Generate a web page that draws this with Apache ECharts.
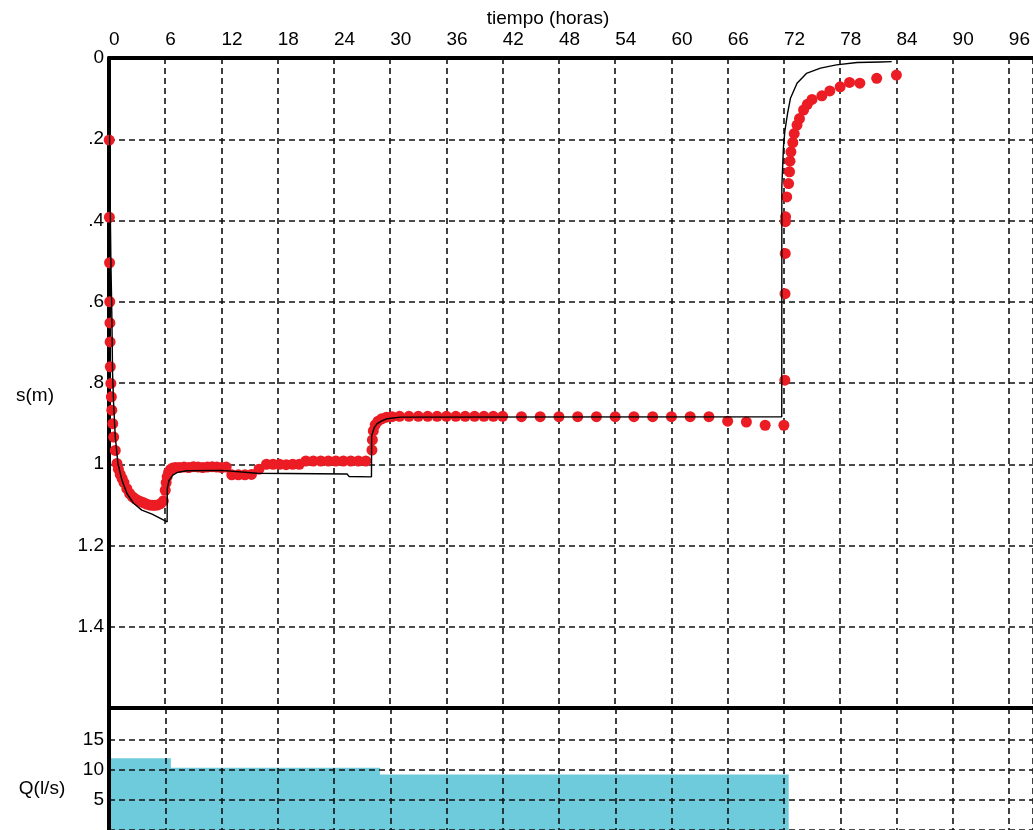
<!DOCTYPE html>
<html><head><meta charset="utf-8">
<script src="https://cdn.jsdelivr.net/npm/echarts@6/dist/echarts.min.js"></script>
<style>html,body{margin:0;padding:0;background:#fff}#c{width:1033px;height:830px}</style>
</head><body><div id="c"></div>
<script>
// ---- tick labels ----
const timeTicks = [0,6,12,18,24,30,36,42,48,54,60,66,72,78,84,90,96];
const sTicks = [0,0.2,0.4,0.6,0.8,1,1.2,1.4];
const qTicks = [5,10,15];

// ---- observed drawdown (red points): time (h), s (m) ----
const obsT = [0.02,0.04,0.06,0.08,0.10,0.12,0.14,0.2,0.25,0.3,0.4,0.5,0.67,0.85,1.0,1.2,1.4,1.6,1.9,2.2,2.5,2.8,3.1,3.4,3.7,4.0,4.3,4.6,4.9,5.2,5.5,5.8,
  6.0,6.1,6.2,6.35,6.55,6.8,7.1,7.5,8.0,8.5,9.0,9.5,10.0,10.5,11.0,11.5,12.0,12.5,
  13.1,13.8,14.5,15.2,16.0,16.8,17.5,18.2,18.9,19.6,20.3,21.0,21.8,22.6,23.4,24.2,25.0,25.8,26.6,27.4,
  28.05,28.1,28.2,28.4,28.7,29.1,29.6,30.2,31,32,33,34,35,36,37,38,39,40,41,42,
  44,46,48,50,52,54,56,58,60,62,64,66,68,70,72,
  72.1,72.12,72.14,72.16,72.18,72.3,72.5,72.6,72.65,72.75,72.95,73.1,73.4,73.66,74.1,74.5,75.0,76.05,76.9,78.0,79.0,80.1,81.9,84.0];
const obsS = [0.202,0.392,0.504,0.600,0.652,0.699,0.760,0.801,0.834,0.867,0.900,0.933,0.966,0.998,1.012,1.025,1.035,1.045,1.060,1.072,1.080,1.085,1.089,1.092,1.095,1.098,1.100,1.101,1.101,1.100,1.097,1.090,
  1.064,1.045,1.031,1.020,1.013,1.009,1.008,1.008,1.007,1.008,1.006,1.007,1.008,1.007,1.006,1.007,1.008,1.007,
  1.026,1.026,1.026,1.025,1.012,1.000,1.000,1.000,1.001,1.000,1.000,0.992,0.992,0.992,0.992,0.992,0.992,0.992,0.992,0.992,
  0.965,0.940,0.918,0.903,0.894,0.888,0.884,0.883,0.882,0.882,0.882,0.882,0.882,0.882,0.882,0.882,0.882,0.882,0.882,0.882,
  0.883,0.883,0.883,0.883,0.883,0.883,0.883,0.883,0.883,0.883,0.883,0.894,0.896,0.904,0.904,
  0.793,0.580,0.481,0.403,0.391,0.342,0.309,0.280,0.254,0.231,0.208,0.186,0.165,0.149,0.128,0.114,0.102,0.093,0.081,0.071,0.060,0.062,0.050,0.042];

// ---- model curve (black line) ----
const modelT = [0,0.1,0.2,0.28,0.33,0.38,0.49,0.67,0.95,1.38,1.91,2.62,3.5,4.6,6.2,6.22,6.4,6.8,7.3,8.3,12.0,15.8,25.4,25.6,28.0,28.02,28.3,28.6,29.1,29.65,31.1,71.77,71.78,71.95,72.1,72.4,72.7,73.4,74.4,75.9,77.6,79.8,82.3,83.5];
const modelS = [0,0.30,0.50,0.60,0.68,0.776,0.85,0.933,0.998,1.039,1.072,1.096,1.113,1.123,1.142,1.06,1.04,1.027,1.02,1.016,1.015,1.022,1.024,1.03,1.031,0.93,0.91,0.90,0.893,0.888,0.884,0.883,0.317,0.22,0.18,0.135,0.099,0.062,0.038,0.025,0.017,0.011,0.0097,0.009];

// ---- pumping rate Q (l/s) steps ----
const qStart = [0, 6.6, 28.9];
const qEnd = [6.6, 28.9, 72.5];
const qRate = [11.9, 10.3, 9.2];

const FONT = '"Liberation Sans", Arial, sans-serif';
const FS = 19;
const dash = {color:'#111', type:[6,4], width:1.6};

const obsData = obsT.map((t,i)=>[t, obsS[i]]);
const modelData = modelT.map((t,i)=>[t, modelS[i]]);
const qData = [];
qStart.forEach((s,i)=>{ qData.push([s, qRate[i]]); qData.push([qEnd[i], qRate[i]]); });
qData.push([qEnd[qEnd.length-1], 0]);

const fmtS = v => {
  const r = Math.round(v*10)/10;
  if (!sTicks.some(t=>Math.abs(t-r)<1e-6)) return '';
  const s = String(r);
  return s.startsWith('0.') ? s.slice(1) : s;
};

const chart = echarts.init(document.getElementById('c'), null, {renderer:'canvas'});
chart.setOption({
  animation:false,
  backgroundColor:'#fff',
  grid:[
    {left:109, right:0, top:58, bottom:122},
    {left:109, right:0, top:708, bottom:-8}
  ],
  xAxis:[
    {gridIndex:0, type:'value', position:'top', min:0, max:98.56, interval:6,
     axisLine:{show:true, onZero:false, lineStyle:{color:'#000', width:4}},
     axisTick:{show:false},
     axisLabel:{color:'#000', fontSize:FS, fontFamily:FONT, align:'left', margin:9, showMaxLabel:false,
       formatter:v=> timeTicks.includes(Math.round(v)) && Math.abs(v-Math.round(v))<1e-6 ? String(Math.round(v)) : ''},
     splitLine:{show:true, lineStyle:dash}},
    {gridIndex:1, type:'value', position:'top', min:0, max:98.56, interval:6, z:3,
     axisLine:{show:true, onZero:false, lineStyle:{color:'#000', width:4}},
     axisTick:{show:false}, axisLabel:{show:false},
     splitLine:{show:true, lineStyle:dash}}
  ],
  yAxis:[
    {gridIndex:0, type:'value', inverse:true, min:0, max:1.6, interval:0.2,
     axisLine:{show:true, onZero:false, lineStyle:{color:'#000', width:4}},
     axisTick:{show:false},
     axisLabel:{color:'#000', fontSize:FS, fontFamily:FONT, margin:5, showMaxLabel:false, formatter:fmtS},
     splitLine:{show:true, lineStyle:dash}},
    {gridIndex:1, type:'value', min:0, max:20.2, interval:5, z:3,
     axisLine:{show:true, onZero:false, lineStyle:{color:'#000', width:4}},
     axisTick:{show:false},
     axisLabel:{color:'#000', fontSize:FS, fontFamily:FONT, margin:5, showMaxLabel:false, showMinLabel:false,
       formatter:v=> qTicks.includes(v) ? String(v) : ''},
     splitLine:{show:true, lineStyle:dash}}
  ],
  graphic:[
    {type:'text', x:548, y:19, style:{text:'tiempo (horas)', fill:'#000', font:FS+'px '+FONT, align:'center', verticalAlign:'middle'}},
    {type:'text', x:35, y:396, style:{text:'s(m)', fill:'#000', font:FS+'px '+FONT, align:'center', verticalAlign:'middle'}},
    {type:'text', x:42, y:789, style:{text:'Q(l/s)', fill:'#000', font:FS+'px '+FONT, align:'center', verticalAlign:'middle'}}
  ],
  series:[
    {type:'scatter', xAxisIndex:0, yAxisIndex:0, data:obsData, symbol:'circle', symbolSize:11,
     itemStyle:{color:'#ec1c24', opacity:1}, clip:false, z:3},
    {type:'line', xAxisIndex:0, yAxisIndex:0, data:modelData, showSymbol:false, symbol:'none',
     lineStyle:{color:'#000', width:1.4}, clip:false, z:4},
    {type:'line', xAxisIndex:1, yAxisIndex:1, data:qData, symbol:'none',
     lineStyle:{width:0, color:'#6ecbdc'}, areaStyle:{color:'#6ecbdc', opacity:1}, z:2}
  ]
});
</script></body></html>
